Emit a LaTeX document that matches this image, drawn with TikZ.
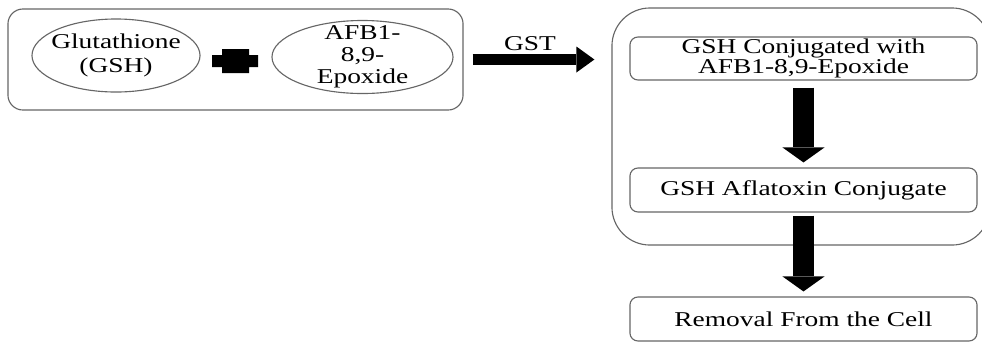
\documentclass[tikz,border=0pt]{standalone}
\usepackage{fontspec}
\setmainfont{Liberation Serif}[FakeStretch=1.3]
\usetikzlibrary{arrows.meta,shapes.geometric}
\tikzset{
  reactant/.style={draw=black!60,line width=0.8pt,ellipse,minimum width=#1,minimum height=1.825cm,inner sep=0pt},
  stepbox/.style={draw=black!60,line width=0.8pt,rounded corners=0.2cm,minimum width=8.675cm,minimum height=1.1cm,align=center,inner sep=0pt},
  flowarrow/.style={line width=8.5pt,-{Triangle[length=12.8pt,width=18.5pt,line width=0pt]}},
  downarrow/.style={line width=15pt,-{Triangle[length=10.7pt,width=30pt,line width=0pt]}}
}
\begin{document}
\begin{tikzpicture}[x=0.025cm,y=-0.025cm,font=\fontsize{15}{17}\selectfont]
\useasboundingbox (0,0) rectangle (982,345);
\node[draw=black!60,line width=0.8pt,rounded corners=0.375cm,minimum width=11.375cm,minimum height=2.525cm] (reactants) at (235.5,59.5) {};
\node[reactant=4.2cm,label={[align=center]center:Glutathione\\(GSH)}] (gsh) at (116,55.5) {};
\node[reactant=4.525cm,label={[align=center,font=\fontsize{15}{15.5}\selectfont]center:AFB1-\\8,9-\\Epoxide}] (afb) at (362.5,57) {};
\fill (222,49)--(249,49)--(249,55)--(258,55)--(258,67)--(249,67)--(249,73)--(222,73)--(222,67)--(212,67)--(212,55)--(222,55)--cycle;
\node[draw=black!60,line width=0.8pt,rounded corners=0.95cm,minimum width=9.45cm,minimum height=5.925cm] (cell) at (801,126.5) {};
\node[stepbox,minimum height=1.075cm,font=\fontsize{15}{14.5}\selectfont] (conj) at (803.5,58.5) {GSH Conjugated with\\AFB1-8,9-Epoxide};
\node[stepbox] (aflaconj) at (803.5,190) {GSH Aflatoxin Conjugate};
\node[stepbox] (removal) at (803.5,319) {Removal From the Cell};
\node (gst) at (530,44) {GST};
\draw[flowarrow,shorten <=0.225cm,shorten >=0.425cm] (reactants.east) -- (reactants.east -| cell.west);
\draw[downarrow,shorten <=0.175cm,shorten >=0.125cm] (conj.south) -- (aflaconj.north);
\draw[downarrow,shorten <=0.075cm,shorten >=0.125cm] (aflaconj.south) -- (removal.north);
\end{tikzpicture}
\end{document}
